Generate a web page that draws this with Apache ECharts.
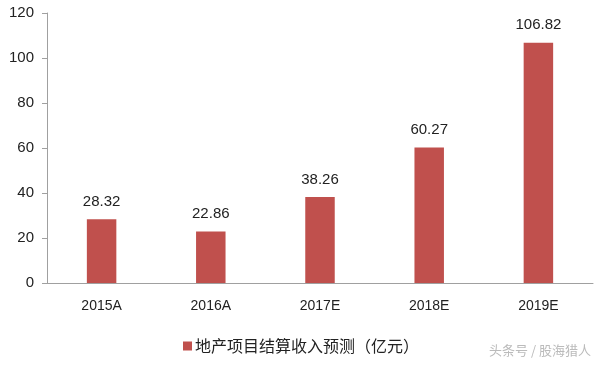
<!DOCTYPE html>
<html><head><meta charset="utf-8">
<script src="https://cdn.jsdelivr.net/npm/echarts@6/dist/echarts.min.js"></script>
<style>html,body{margin:0;padding:0;background:#fff}#c{width:603px;height:367px}</style>
</head><body><div id="c"></div>
<script>
var categories = ['2015A','2016A','2017E','2018E','2019E'];
var values = [28.32, 22.86, 38.26, 60.27, 106.82];
var seriesName = '地产项目结算收入预测（亿元）';
var yTicks = [0, 20, 40, 60, 80, 100, 120];
var watermark = '头条号 / 股海猎人';

var chart = echarts.init(document.getElementById('c'));
chart.setOption({
  animation: false,
  grid: {left: 47, right: 10, top: 13, bottom: 84},
  legend: {
    data: [seriesName], bottom: 8, left: 178, itemWidth: 9, itemHeight: 9, itemGap: 4,
    icon: 'rect',
    textStyle: {fontFamily: 'Noto Sans CJK SC', fontSize: 16, color: '#222', padding: [0,0,0,-2]}
  },
  graphic: [{type: 'text', right: 12, bottom: 10, style: {text: watermark, fill: '#bbb', font: '13px "Noto Sans CJK SC"'}}],
  xAxis: {
    type: 'category', data: categories,
    axisLine: {lineStyle: {color: '#a0a0a0'}},
    axisTick: {show: false},
    axisLabel: {fontFamily: 'Liberation Sans', fontSize: 14, color: '#222', margin: 16}
  },
  yAxis: {
    type: 'value', min: yTicks[0], max: yTicks[yTicks.length-1], interval: 20,
    axisLine: {show: true, lineStyle: {color: '#a0a0a0'}},
    axisTick: {show: true, length: 5, lineStyle: {color: '#a0a0a0'}},
    splitLine: {show: false},
    axisLabel: {fontFamily: 'Liberation Sans', fontSize: 15, color: '#222', margin: 13}
  },
  series: [{
    name: seriesName, type: 'bar', data: values, barWidth: '27%',
    itemStyle: {color: '#C0504D'},
    label: {show: true, position: 'top', distance: 10, fontFamily: 'Liberation Sans', fontSize: 15, color: '#222',
      formatter: function(p){return p.value.toFixed(2);}}
  }]
});
</script></body></html>
